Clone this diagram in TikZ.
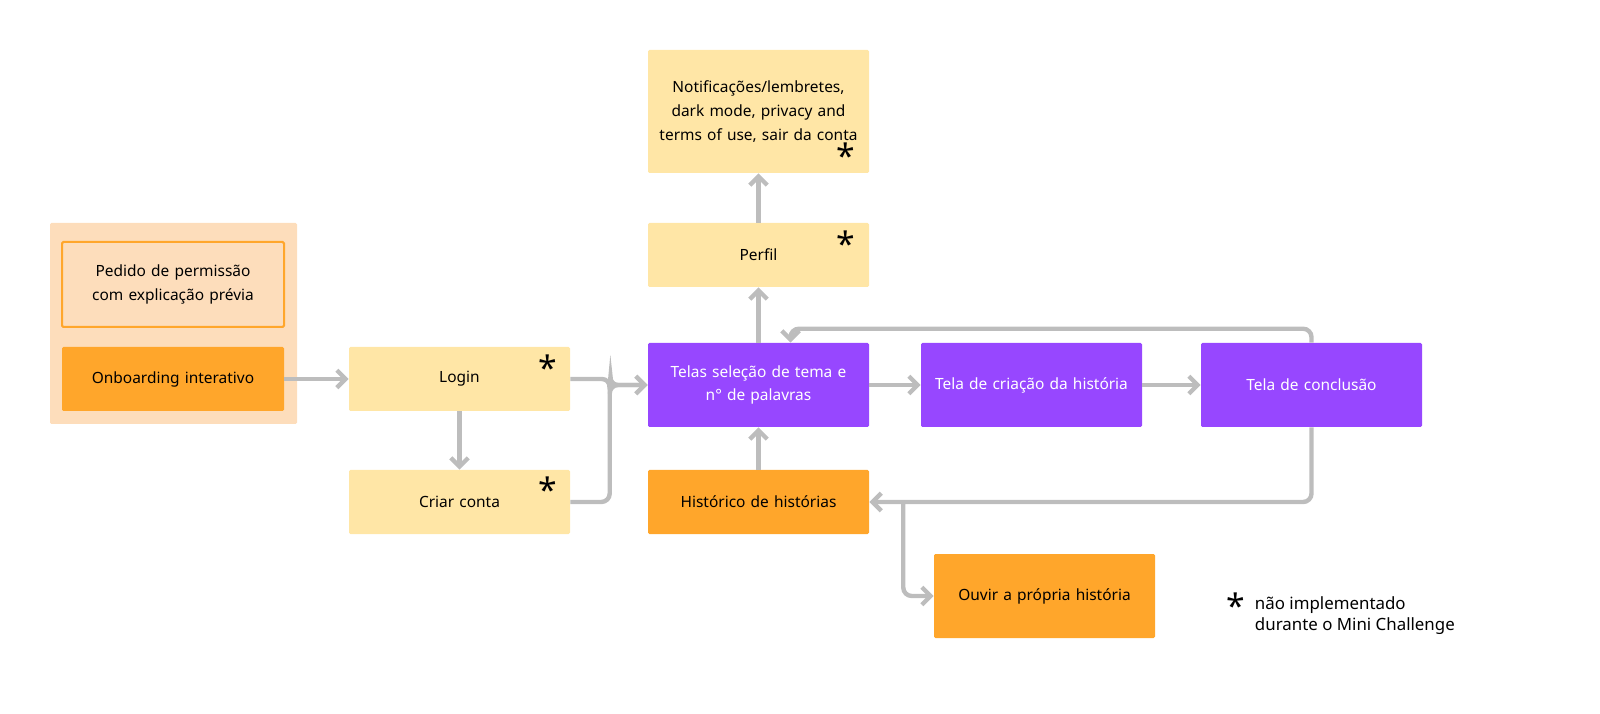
\documentclass[tikz,border=0pt]{standalone}
\usepackage{fontspec}
\setmainfont{Noto Sans}
\usetikzlibrary{arrows.meta, positioning, calc}
\definecolor{lightbox}{HTML}{FFE6A6}
\definecolor{orangebox}{HTML}{FFA62B}
\definecolor{peach}{HTML}{FDDDBB}
\definecolor{purplebox}{HTML}{9747FF}
\definecolor{linkgray}{HTML}{BDBDBD}
\begin{document}
\begin{tikzpicture}[>={Straight Barb[length=2.2mm,width=4.4mm]},
        screen/.style={rectangle, rounded corners=1pt, text centered, text width=5cm, minimum width=5.525cm, minimum height=1.6cm, font=\fontsize{11}{17}\selectfont},
        todo/.style={screen, fill=lightbox},
        done/.style={screen, fill=orangebox},
        flow/.style={screen, fill=purplebox, text=white, minimum height=2.1cm},
        link/.style={draw=linkgray, line width=1.1mm, rounded corners=6pt},
        star/.style={font=\fontsize{24}{24}\selectfont\bfseries}]

    \useasboundingbox (0,0) rectangle (40,-17.85);

    % Onboarding group
    \node (group) [rectangle, fill=peach, rounded corners=1pt, minimum width=6.175cm, minimum height=5.025cm] at (4.3375,-8.0875) {};
    \node (permission) [screen, fill=peach, draw=orangebox, line width=0.5mm, minimum width=5.55cm, minimum height=2.125cm] at (4.325,-7.1125) {Pedido de permissão com explicação prévia};
    \node (onboarding) [done, minimum width=5.55cm] at (4.325,-9.475) {Onboarding interativo};

    % Screens
    \node (login) [todo] at (11.4875,-9.475) {Login};
    \node (signup) [todo] at (11.4875,-12.55) {Criar conta};
    \node (theme) [flow] at (18.9625,-9.625) {Telas seleção de tema e\\n° de palavras};
    \node (create) [flow] at (25.7875,-9.625) {Tela de criação da história};
    \node (finish) [flow] at (32.7875,-9.625) {Tela de conclusão};
    \node (profile) [todo] at (18.9625,-6.375) {Perfil};
    \node (settings) [todo, minimum height=3.075cm] at (18.9625,-2.7875) {Notificações/lembretes, dark mode, privacy and terms of use, sair da conta};
    \node (history) [done] at (18.9625,-12.55) {Histórico de histórias};
    \node (listen) [done, minimum height=2.1cm] at (26.1125,-14.9) {Ouvir a própria história};

    % Not implemented marks
    \node [star] at (13.7,-9.2) {*};
    \node [star] at (13.7,-12.25) {*};
    \node [star] at (21.15,-6.1) {*};
    \node [star] at (21.15,-3.9) {*};

    % Main flow
    \draw [link, ->] (onboarding) -- (login);
    \draw [link, ->] (login) -- (signup);
    \draw [link, ->] (login.east) -- ++(1,0) -- ($(theme.west)+(-0.95,0)$) -- (theme.west);
    \draw [link, ->] (signup.east) -| ($(theme.west)+(-0.95,0)$) -- (theme.west);
    \draw [link, ->] (theme) -- (create);
    \draw [link, ->] (create) -- (finish);
    \draw [link, ->] (theme) -- (profile);
    \draw [link, ->] (profile) -- (settings);
    \draw [link, ->] (history) -- (theme);

    % Loops back
    \draw [link, ->] (finish.north) |- ++(-3,0.35) -| ($(theme.north)+(0.8,0)$);
    \draw [link, ->] (finish.south) |- (history.east);
    \draw [link, ->] ($(history.east)+(0.85,0)$) |- (listen.west);

    % Legend
    \node (legendstar) [star] at (30.9,-15.15) {*};
    \node (legend) [anchor=west, align=left, font=\fontsize{12}{15}\selectfont] at (31.25,-15.4) {não implementado\\durante o Mini Challenge};

\end{tikzpicture}
\end{document}
